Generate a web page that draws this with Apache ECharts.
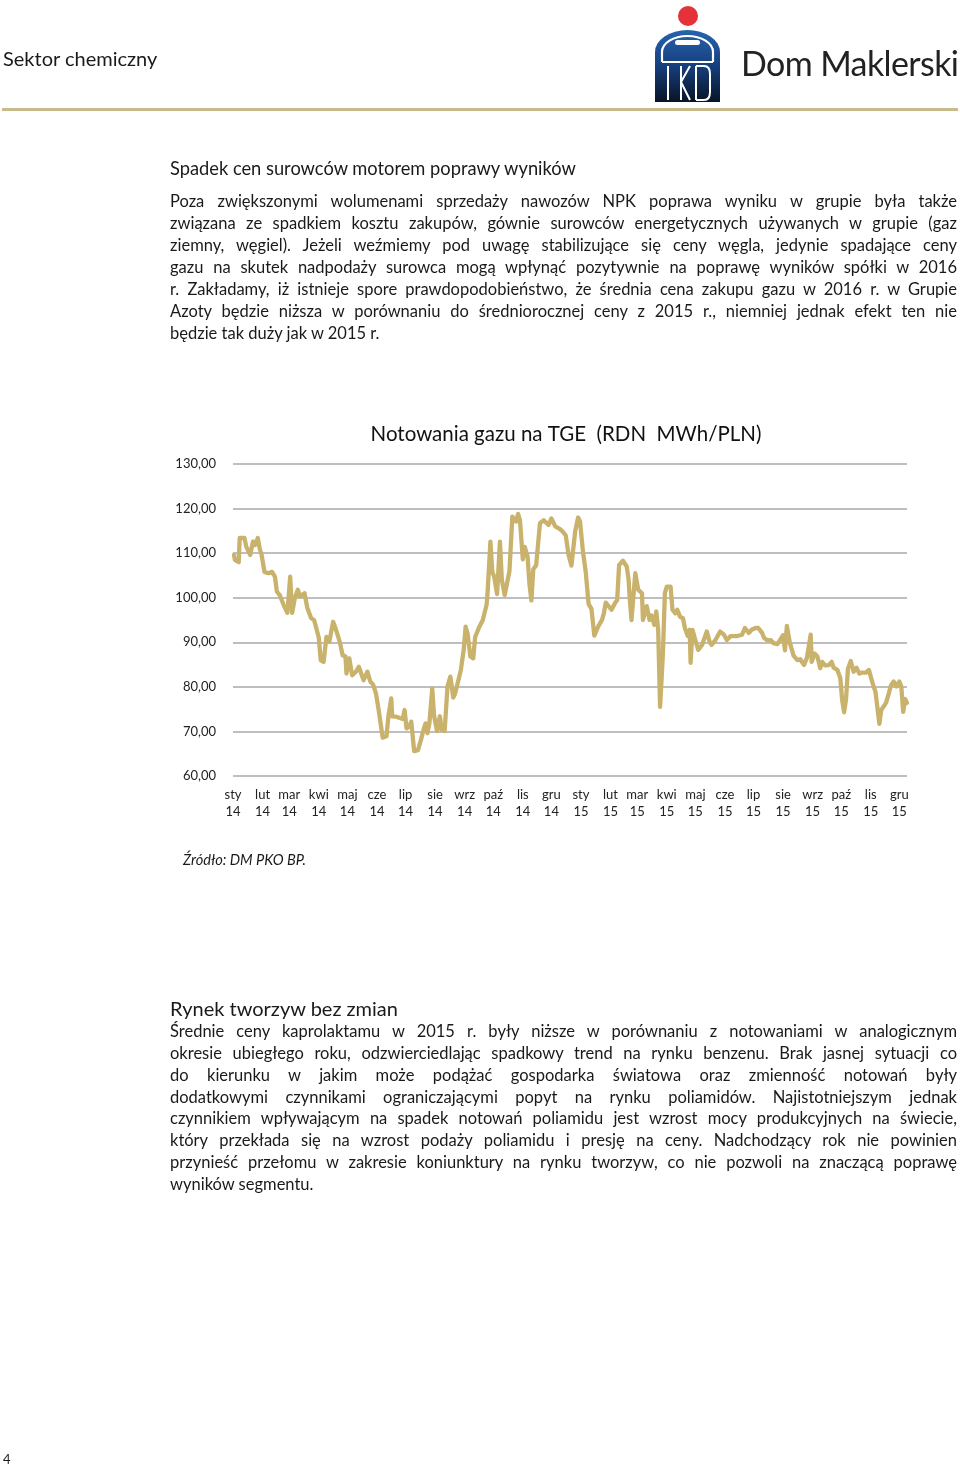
<!DOCTYPE html>
<html>
<head>
<meta charset="utf-8">
<script src="https://cdn.jsdelivr.net/npm/echarts@6/dist/echarts.min.js"></script>
<style>
  html, body { margin: 0; padding: 0; background: #fff; }
  body { width: 960px; height: 1466px; position: relative; overflow: hidden; font-family: Lato, "Noto Sans", sans-serif; color: #1a1a1a; }
  .abs { position: absolute; white-space: nowrap; }
  .line { position: absolute; left: 170px; width: 787px; height: 22px; line-height: 22px; font-size: 16.5px; white-space: nowrap; text-align: justify; text-align-last: justify; }
  .line.last { text-align: left; text-align-last: left; }
  #chart { position: absolute; left: 0; top: 0; width: 960px; height: 1466px; }
</style>
</head>
<body>
<div id="chart"></div>

<div class="abs" style="left:3px; top:46px; font-size:20px; line-height:24px;">Sektor chemiczny</div>

<svg class="abs" style="left:640px; top:0px;" width="100" height="108" viewBox="640 0 100 108">
  <defs>
    <linearGradient id="pkog" x1="0" y1="0" x2="0" y2="1">
      <stop offset="0" stop-color="#2763b0"/>
      <stop offset="0.5" stop-color="#163f7c"/>
      <stop offset="1" stop-color="#081426"/>
    </linearGradient>
  </defs>
  <circle cx="688" cy="16" r="10" fill="#e53238"/>
  <path d="M655,102 L655,52 A32.5,22 0 0 1 720,52 L720,102 Z" fill="url(#pkog)"/>
  <path d="M662,62 L662,52 A25.5,16 0 0 1 713,52 L713,62" fill="none" stroke="#fff" stroke-width="2.2"/>
  <rect x="675" y="40" width="25" height="5" rx="2.5" fill="#fff"/>
  <path d="M662,62 L713,62" stroke="#fff" stroke-width="2"/>
  <path d="M668,66 L668,100 M681,66 L681,100 M681,82 L690,66 M681,82 L690,100 M696,66 L696,100 M696,66 L704,66 Q710,66 710,74 L710,92 Q710,100 704,100 L696,100" fill="none" stroke="#fff" stroke-width="2"/>
</svg>
<div class="abs" style="left:741px; top:41px; font-size:34px; line-height:44px; color:#222; letter-spacing:-0.6px;">Dom Maklerski</div>
<div class="abs" style="left:2px; top:108px; width:956px; height:3px; background:#c9ba8c;"></div>

<div class="abs" style="left:170px; top:157px; font-size:18.3px; line-height:22px;">Spadek cen surowców motorem poprawy wyników</div>

<div class="line" style="top:190px;">Poza zwiększonymi wolumenami sprzedaży nawozów NPK poprawa wyniku w grupie była także</div>
<div class="line" style="top:212px;">związana ze spadkiem kosztu zakupów, gównie surowców energetycznych używanych w grupie (gaz</div>
<div class="line" style="top:234px;">ziemny, węgiel). Jeżeli weźmiemy pod uwagę stabilizujące się ceny węgla, jedynie spadające ceny</div>
<div class="line" style="top:256px;">gazu na skutek nadpodaży surowca mogą wpłynąć pozytywnie na poprawę wyników spółki w 2016</div>
<div class="line" style="top:278px;">r. Zakładamy, iż istnieje spore prawdopodobieństwo, że średnia cena zakupu gazu w 2016 r. w Grupie</div>
<div class="line" style="top:300px;">Azoty będzie niższa w porównaniu do średniorocznej ceny z 2015 r., niemniej jednak efekt ten nie</div>
<div class="line last" style="top:322px;">będzie tak duży jak w 2015 r.</div>

<div class="abs" style="left:183px; top:851px; font-size:14.6px; line-height:18px; font-style:italic;">Źródło: DM PKO BP.</div>

<div class="abs" style="left:170px; top:996px; font-size:20px; line-height:24px;">Rynek tworzyw bez zmian</div>

<div class="line" style="top:1020px;">Średnie ceny kaprolaktamu w 2015 r. były niższe w porównaniu z notowaniami w analogicznym</div>
<div class="line" style="top:1042px;">okresie ubiegłego roku, odzwierciedlając spadkowy trend na rynku benzenu. Brak jasnej sytuacji co</div>
<div class="line" style="top:1064px;">do kierunku w jakim może podążać gospodarka światowa oraz zmienność notowań były</div>
<div class="line" style="top:1086px;">dodatkowymi czynnikami ograniczającymi popyt na rynku poliamidów. Najistotniejszym jednak</div>
<div class="line" style="top:1107px;">czynnikiem wpływającym na spadek notowań poliamidu jest wzrost mocy produkcyjnych na świecie,</div>
<div class="line" style="top:1129px;">który przekłada się na wzrost podaży poliamidu i presję na ceny.  Nadchodzący rok nie powinien</div>
<div class="line" style="top:1151px;">przynieść przełomu w zakresie koniunktury na rynku tworzyw, co nie pozwoli na znaczącą poprawę</div>
<div class="line last" style="top:1173px;">wyników segmentu.</div>

<div class="abs" style="left:3px; top:1450px; font-size:13px; line-height:18px;">4</div>

<script>
// ---- data ----
const chartTitle = 'Notowania gazu na TGE  (RDN  MWh/PLN)';
const monthNames = ['sty','lut','mar','kwi','maj','cze','lip','sie','wrz','paź','lis','gru'];
const yTicks = [60, 70, 80, 90, 100, 110, 120, 130];

const dates2014 = [
 '2014-01-02','2014-01-03','2014-01-07','2014-01-08','2014-01-10','2014-01-13','2014-01-15','2014-01-17','2014-01-19','2014-01-22',
 '2014-01-24','2014-01-27','2014-01-29','2014-01-31','2014-02-03','2014-02-07','2014-02-11','2014-02-14','2014-02-16','2014-02-19',
 '2014-02-23','2014-02-27','2014-03-02','2014-03-04','2014-03-07','2014-03-10','2014-03-12','2014-03-17','2014-03-20','2014-03-24',
 '2014-03-27','2014-03-29','2014-04-01','2014-04-03','2014-04-06','2014-04-09','2014-04-12','2014-04-16','2014-04-18','2014-04-23',
 '2014-04-26','2014-04-29','2014-04-30','2014-05-03','2014-05-06','2014-05-10','2014-05-13','2014-05-18','2014-05-22','2014-05-25',
 '2014-05-28','2014-05-31','2014-06-03','2014-06-07','2014-06-11','2014-06-13','2014-06-16','2014-06-17','2014-06-21','2014-06-25',
 '2014-06-28','2014-06-30','2014-07-02','2014-07-05','2014-07-07','2014-07-10','2014-07-14','2014-07-17','2014-07-20','2014-07-22',
 '2014-07-24','2014-07-26','2014-07-29','2014-07-31','2014-08-03','2014-08-06','2014-08-08','2014-08-11','2014-08-14','2014-08-17',
 '2014-08-20','2014-08-22','2014-08-26','2014-08-28','2014-08-31','2014-09-02','2014-09-04','2014-09-07','2014-09-10','2014-09-12',
 '2014-09-16','2014-09-20','2014-09-24','2014-09-25','2014-09-28','2014-09-30','2014-10-02','2014-10-05','2014-10-08','2014-10-10',
 '2014-10-13','2014-10-15','2014-10-18','2014-10-21','2014-10-25','2014-10-27','2014-10-29','2014-11-01','2014-11-03','2014-11-06',
 '2014-11-08','2014-11-10','2014-11-12','2014-11-15','2014-11-19','2014-11-23','2014-11-28','2014-12-01','2014-12-05','2014-12-10',
 '2014-12-13','2014-12-16','2014-12-19','2014-12-22','2014-12-26','2014-12-29','2014-12-31'
];
const prices2014 = [
 109.6,108.5,108.0,113.4,113.6,113.4,111.4,111.0,109.6,112.6,
 111.8,113.4,111.0,109.6,105.8,105.5,105.8,104.7,101.4,100.6,
 98.4,96.6,104.7,96.6,100.0,101.8,100.3,101.0,97.7,95.4,
 95.0,93.5,91.0,86.0,85.6,91.2,90.1,94.6,93.5,90.1,
 87.1,86.8,83.0,86.4,82.6,83.4,84.5,81.5,83.4,81.2,
 80.5,78.5,74.5,68.6,68.9,73.4,77.4,73.4,73.3,73.0,
 72.8,74.8,70.7,71.1,72.2,65.6,65.8,68.0,70.5,71.8,
 69.6,71.8,79.6,73.4,70.1,73.4,70.3,70.1,80.1,82.3,
 77.6,78.5,82.0,83.8,88.3,93.5,92.0,86.8,86.4,91.2,
 93.3,95.0,98.4,101.0,112.6,105.8,104.7,100.8,112.6,104.0,
 100.6,101.0,106.0,118.2,117.1,118.8,117.4,108.6,111.4,109.2,
 103.0,99.4,106.4,107.3,116.7,117.4,116.3,117.8,116.0,115.4,
 114.8,114.0,109.6,107.2,115.0,118.0,117.1
];
const dates2015 = [
 '2015-01-03','2015-01-06','2015-01-09','2015-01-12','2015-01-15','2015-01-19','2015-01-23','2015-01-25','2015-01-27','2015-01-30',
 '2015-02-02','2015-02-06','2015-02-08','2015-02-10','2015-02-14','2015-02-18','2015-02-20','2015-02-21','2015-02-23','2015-02-27',
 '2015-03-01','2015-03-02','2015-03-06','2015-03-07','2015-03-11','2015-03-14','2015-03-16','2015-03-19','2015-03-21','2015-03-23',
 '2015-03-25','2015-03-28','2015-03-30','2015-04-01','2015-04-05','2015-04-07','2015-04-10','2015-04-12','2015-04-15','2015-04-18',
 '2015-04-20','2015-04-23','2015-04-25','2015-04-26','2015-04-28','2015-05-01','2015-05-04','2015-05-08','2015-05-10','2015-05-13',
 '2015-05-16','2015-05-18','2015-05-22','2015-05-27','2015-05-31','2015-06-03','2015-06-07','2015-06-14','2015-06-19','2015-06-22',
 '2015-06-26','2015-06-29','2015-07-03','2015-07-06','2015-07-10','2015-07-12','2015-07-15','2015-07-19','2015-07-22','2015-07-26',
 '2015-07-28','2015-08-01','2015-08-03','2015-08-05','2015-08-08','2015-08-12','2015-08-16','2015-08-19','2015-08-23','2015-08-26',
 '2015-08-30','2015-08-31','2015-09-03','2015-09-06','2015-09-09','2015-09-11','2015-09-14','2015-09-18','2015-09-21','2015-09-23',
 '2015-09-27','2015-09-30','2015-10-02','2015-10-04','2015-10-06','2015-10-08','2015-10-11','2015-10-14','2015-10-17','2015-10-20',
 '2015-10-23','2015-10-27','2015-10-30','2015-11-03','2015-11-06','2015-11-10','2015-11-12','2015-11-17','2015-11-20','2015-11-22',
 '2015-11-25','2015-11-28','2015-12-01','2015-12-03','2015-12-05','2015-12-07','2015-12-09'
];
const prices2015 = [
 110.5,105.8,98.6,97.5,91.5,93.5,95.0,96.5,98.9,98.1,
 97.3,98.9,99.5,107.3,108.3,107.0,104.0,100.3,95.0,105.5,
 105.5,101.8,101.0,95.0,98.1,95.0,96.0,93.9,96.9,92.8,
 75.5,87.6,101.0,102.5,102.5,97.3,96.5,97.3,95.7,95.4,
 93.2,91.4,92.8,85.4,92.8,90.5,88.3,89.4,89.4,92.4,
 90.1,89.4,90.5,92.4,91.7,90.5,91.4,91.4,91.7,93.2,
 92.1,92.8,93.2,93.2,92.1,91.0,90.5,90.5,89.8,89.6,
 89.4,91.6,88.2,93.7,90.0,87.0,86.0,86.2,84.9,86.5,
 91.7,85.6,87.5,86.8,84.2,85.6,84.8,84.9,85.6,84.3,
 83.8,82.0,77.0,74.3,77.1,84.0,85.8,83.4,84.3,83.0,
 83.2,83.2,83.8,80.8,78.8,71.7,74.8,76.4,78.6,80.2,
 81.2,80.1,81.2,80.1,74.4,77.3,76.4
];
const axisStart = '2014-01-01';
const axisEnd = '2015-12-09';

// ---- build ----
const dates = dates2014.concat(dates2015);
const prices = prices2014.concat(prices2015);
const seriesData = dates.map((d, i) => [d, prices[i]]);
const DAY = 86400000;

const chart = echarts.init(document.getElementById('chart'), null, { renderer: 'canvas' });
chart.setOption({
  animation: false,
  backgroundColor: 'transparent',
  grid: { left: 233, right: 53, top: 464, bottom: 690, containLabel: false },
  graphic: [{
    type: 'text', x: 566, y: 434,
    style: { text: chartTitle, fill: '#111', font: '20.5px Lato, "Noto Sans", sans-serif', textAlign: 'center', textVerticalAlign: 'middle' }
  }],
  xAxis: {
    type: 'time',
    min: axisStart, max: axisEnd,
    minInterval: 28 * DAY, maxInterval: 31 * DAY,
    axisLine: { show: false }, axisTick: { show: false }, splitLine: { show: false },
    axisLabel: {
      margin: 10, fontSize: 13, lineHeight: 17, color: '#222', fontFamily: 'Lato, "Noto Sans", sans-serif',
      hideOverlap: false,
      formatter: function (val) {
        const d = new Date(val);
        return monthNames[d.getMonth()] + '\n' + String(d.getFullYear()).slice(2);
      }
    }
  },
  yAxis: {
    type: 'value', min: yTicks[0], max: yTicks[yTicks.length - 1], interval: 10,
    axisLine: { show: false }, axisTick: { show: false },
    splitLine: { lineStyle: { color: '#a8a8a8', width: 1.5 } },
    axisLabel: {
      margin: 17, fontSize: 13, color: '#222', fontFamily: 'Lato, "Noto Sans", sans-serif',
      formatter: v => v.toFixed(2).replace('.', ',')
    }
  },
  series: [{
    type: 'line', data: seriesData, showSymbol: false, smooth: false,
    lineStyle: { color: '#C9B26C', width: 4.3, join: 'round', cap: 'round' }
  }]
});

// fit justified lines that would overflow
document.querySelectorAll('.line').forEach(el => {
  const span = document.createElement('span');
  span.textContent = el.textContent;
  span.style.whiteSpace = 'nowrap';
  span.style.visibility = 'hidden';
  span.style.position = 'absolute';
  span.style.fontSize = getComputedStyle(el).fontSize;
  document.body.appendChild(span);
  const w = span.getBoundingClientRect().width;
  document.body.removeChild(span);
  if (w > 787) {
    const n = el.textContent.length;
    el.style.letterSpacing = ((787 - w - 4) / n) + 'px';
  }
});
</script>
</body>
</html>
